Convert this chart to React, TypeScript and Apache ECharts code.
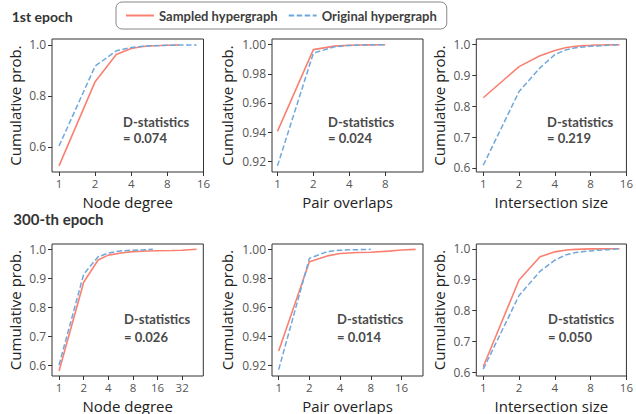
import React, { useEffect, useRef } from "react";
import * as echarts from "echarts";

// ---- Data ----
const xNames = ["Node degree", "Pair overlaps", "Intersection size", "Node degree", "Pair overlaps", "Intersection size"];
const dStats = ["= 0.074", "= 0.024", "= 0.219", "= 0.026", "= 0.014", "= 0.050"];
const rowTitles = ["1st epoch", "300-th epoch"];

// 1st epoch
const p1SampledX = [1, 2, 3, 4, 5, 6, 7, 8, 9, 10];
const p1SampledY = [0.525, 0.856, 0.963, 0.986, 0.994, 0.997, 0.998, 0.999, 0.9995, 1.0];
const p1OrigX = [1, 2, 3, 4, 5, 6, 7, 8, 9, 10, 11, 12, 13, 14];
const p1OrigY = [0.603, 0.917, 0.977, 0.99, 0.995, 0.997, 0.998, 0.999, 0.9993, 0.9995, 0.9997, 0.9998, 0.9999, 1.0];

const p2SampledX = [1, 2, 3, 4, 5, 6, 7, 8];
const p2SampledY = [0.9405, 0.9966, 0.999, 0.9996, 0.9998, 0.9999, 0.99995, 1.0];
const p2OrigX = [1, 2, 3, 4, 5, 6, 7, 8];
const p2OrigY = [0.9168, 0.9942, 0.9985, 0.9994, 0.9997, 0.9999, 0.99995, 1.0];

const p3SampledX = [1, 2, 3, 4, 5, 6, 7, 8, 9, 10, 11, 12, 13, 14];
const p3SampledY = [0.828, 0.929, 0.964, 0.981, 0.991, 0.995, 0.997, 0.998, 0.999, 0.9993, 0.9995, 0.9997, 0.9999, 1.0];
const p3OrigX = [1, 2, 3, 4, 5, 6, 7, 8, 9, 10, 11, 12, 13, 14];
const p3OrigY = [0.609, 0.848, 0.925, 0.968, 0.984, 0.99, 0.993, 0.995, 0.996, 0.997, 0.998, 0.999, 0.9995, 1.0];

// 300-th epoch
const p4SampledX = [1, 2, 3, 4, 6, 8, 12, 16, 24, 32, 48];
const p4SampledY = [0.579, 0.886, 0.963, 0.98, 0.988, 0.992, 0.994, 0.995, 0.996, 0.997, 1.0];
const p4OrigX = [1, 2, 3, 4, 5, 6, 8, 10, 12, 14];
const p4OrigY = [0.6, 0.914, 0.974, 0.987, 0.992, 0.995, 0.997, 0.998, 0.999, 1.0];

const p5SampledX = [1, 2, 3, 4, 6, 8, 12, 16, 22];
const p5SampledY = [0.93, 0.9915, 0.9955, 0.9972, 0.9978, 0.998, 0.9988, 0.9996, 1.0];
const p5OrigX = [1, 2, 3, 4, 5, 6, 7, 8];
const p5OrigY = [0.9172, 0.9938, 0.9985, 0.9994, 0.9997, 0.9998, 0.9999, 1.0];

const p6SampledX = [1, 2, 3, 4, 5, 6, 7, 8, 9, 10, 11, 12, 13, 14];
const p6SampledY = [0.619, 0.899, 0.974, 0.99, 0.996, 0.998, 0.999, 0.9995, 0.9997, 0.9998, 0.9999, 0.9999, 1.0, 1.0];
const p6OrigX = [1, 2, 3, 4, 5, 6, 7, 8, 9, 10, 11, 12, 13, 14];
const p6OrigY = [0.611, 0.849, 0.927, 0.963, 0.981, 0.988, 0.991, 0.993, 0.995, 0.996, 0.997, 0.998, 0.999, 1.0];

const sampledX = [p1SampledX, p2SampledX, p3SampledX, p4SampledX, p5SampledX, p6SampledX];
const sampledY = [p1SampledY, p2SampledY, p3SampledY, p4SampledY, p5SampledY, p6SampledY];
const origX = [p1OrigX, p2OrigX, p3OrigX, p4OrigX, p5OrigX, p6OrigX];
const origY = [p1OrigY, p2OrigY, p3OrigY, p4OrigY, p5OrigY, p6OrigY];

const xTicks = [[1, 2, 4, 8, 16], [1, 2, 4, 8], [1, 2, 4, 8, 16], [1, 2, 4, 8, 16, 32], [1, 2, 4, 8, 16], [1, 2, 4, 8, 16]];
const yTicksA = [0.6, 0.8, 1.0];
const yTicksB = [0.92, 0.94, 0.96, 0.98, 1.0];
const yTicksC = [0.6, 0.7, 0.8, 0.9, 1.0];
const yTicks = [yTicksA, yTicksB, yTicksC, yTicksC, yTicksB, yTicksC];
const yDecimals = [1, 2, 1, 1, 2, 1];

// ---- Layout ----
const xRanges = [[0.874, 16], [0.9, 16.6], [0.874, 16], [0.82, 58], [0.86, 26], [0.874, 16]];
const yRanges = [[0.501, 1.0235], [0.9126, 1.0039], [0.587, 1.0186], [0.562, 1.0184], [0.9128, 1.0037], [0.589, 1.0154]];
const grids = [
  { left: 52, top: 39, width: 151.5, height: 133 },
  { left: 272, top: 39, width: 151, height: 133 },
  { left: 476.3, top: 39, width: 151.2, height: 133 },
  { left: 52, top: 244, width: 151.3, height: 132 },
  { left: 272, top: 244, width: 151, height: 132 },
  { left: 476.3, top: 244, width: 151.2, height: 132 },
];
const yNameGaps = [30, 38, 30, 30, 38, 30];
const dPos = [
  [123, 123.3, 139.3], [328, 123.3, 139.3], [547, 123.3, 139.3],
  [124, 320.7, 338.3], [337, 320.7, 338.3], [548, 320.7, 338.3],
];

const RED = "#FA8072";
const BLUE = "#6FA8DC";
const REG = "Open Sans";
const BOLD = "Lato";

export default function App() {
  const ref = useRef<HTMLDivElement>(null);
  useEffect(() => {
    if (!ref.current) return;
    const chart = echarts.init(ref.current, undefined, { renderer: "svg" });
    const xAxis: any[] = [];
    const yAxis: any[] = [];
    const series: any[] = [];
    const graphic: any[] = [];
    for (let i = 0; i < 6; i++) {
      xAxis.push({
        type: "log",
        logBase: 2,
        gridIndex: i,
        min: xRanges[i][0],
        max: xRanges[i][1],
        name: xNames[i],
        nameLocation: "middle",
        nameGap: 22,
        nameTextStyle: { fontFamily: REG, fontSize: 15, color: "#222", lineHeight: 15 },
        axisLine: { show: false },
        axisTick: { show: true, length: 4, inside: false, customValues: xTicks[i], lineStyle: { color: "#333", width: 1 } },
        axisLabel: { show: true, margin: 5, customValues: xTicks[i], fontFamily: REG, fontSize: 11.5, lineHeight: 12, color: "#555", formatter: (v: number) => String(Math.round(v)) },
        splitLine: { show: false },
        minorTick: { show: false },
      });
      const dec = yDecimals[i];
      yAxis.push({
        type: "value",
        gridIndex: i,
        min: yRanges[i][0],
        max: yRanges[i][1],
        name: "Cumulative prob.",
        nameLocation: "middle",
        nameGap: yNameGaps[i],
        nameTextStyle: { fontFamily: REG, fontSize: 15, color: "#222", lineHeight: 15 },
        axisLine: { show: false },
        axisTick: { show: true, length: 4, inside: false, customValues: yTicks[i], lineStyle: { color: "#333", width: 1 } },
        axisLabel: { show: true, margin: 6, customValues: yTicks[i], fontFamily: REG, fontSize: 12, lineHeight: 12, color: "#555", formatter: (v: number) => v.toFixed(dec) },
        splitLine: { show: false },
      });
      series.push({
        name: "Sampled hypergraph",
        type: "line",
        xAxisIndex: i,
        yAxisIndex: i,
        data: sampledX[i].map((x, k) => [x, sampledY[i][k]]),
        symbol: "none",
        showSymbol: false,
        lineStyle: { color: RED, width: 1.6 },
        itemStyle: { color: RED },
      });
      series.push({
        name: "Original hypergraph",
        type: "line",
        xAxisIndex: i,
        yAxisIndex: i,
        data: origX[i].map((x, k) => [x, origY[i][k]]),
        symbol: "none",
        showSymbol: false,
        lineStyle: { color: BLUE, width: 1.5, type: [5.5, 2.5] },
        itemStyle: { color: BLUE },
      });
      graphic.push({
        type: "text",
        left: dPos[i][0],
        top: dPos[i][1] - 8,
        style: { text: "D-statistics", font: `bold 13px ${BOLD}`, fill: "#4a4a4a" },
      });
      graphic.push({
        type: "text",
        left: dPos[i][0],
        top: dPos[i][2] - 8,
        style: { text: dStats[i], font: `bold 13px ${BOLD}`, fill: "#4a4a4a" },
      });
    }
    graphic.push({ type: "text", left: 11.7, top: 18.3 - 9, style: { text: rowTitles[0], font: `bold 14px ${BOLD}`, fill: "#333" } });
    graphic.push({ type: "text", left: 13.3, top: 221 - 9.5, style: { text: rowTitles[1], font: `bold 15px ${BOLD}`, fill: "#333" } });

    chart.setOption({
      animation: false,
      backgroundColor: "#fff",
      grid: grids.map((g) => ({ ...g, show: true, borderColor: "#333", borderWidth: 1, backgroundColor: "transparent", containLabel: false })),
      xAxis,
      yAxis,
      series,
      graphic,
      legend: {
        data: ["Sampled hypergraph", "Original hypergraph"],
        left: 116,
        top: 2,
        padding: [5, 10, 5, 9],
        itemGap: 10,
        itemWidth: 28,
        itemHeight: 14,
        itemStyle: { opacity: 0 },
        borderColor: "#888",
        borderWidth: 1,
        borderRadius: 6,
        textStyle: { fontFamily: BOLD, fontWeight: "bold", fontSize: 13, color: "#404040", lineHeight: 17 },
      },
    });
    return () => chart.dispose();
  }, []);
  return <div ref={ref} style={{ position: "absolute", left: 0, top: 0, width: 636, height: 414 }} />;
}
